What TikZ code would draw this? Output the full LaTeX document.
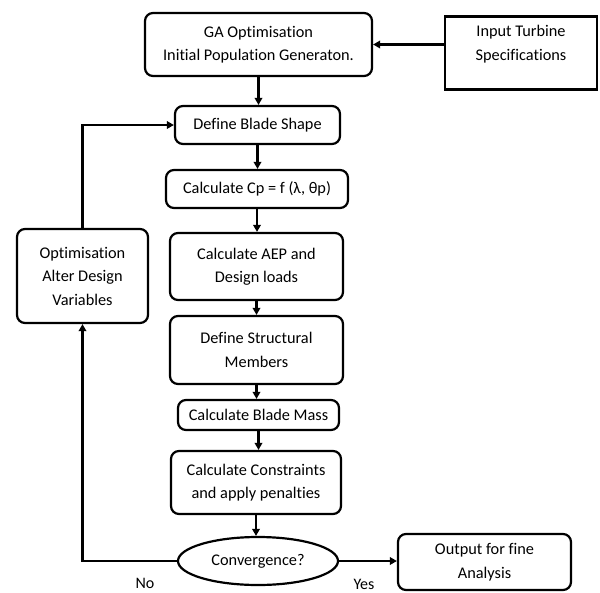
\documentclass[tikz,border=0pt]{standalone}
\usepackage{fontspec}
\setmainfont{Carlito}[Ligatures={NoCommon}]
\usetikzlibrary{shapes.geometric,arrows.meta}
\begin{document}
\begin{tikzpicture}[x=1pt,y=-1pt,
  txt/.style={font=\fontsize{16.3}{23.5}\selectfont, align=center},
  rbox/.style={draw, rounded corners=8pt, line width=2.2pt, inner sep=0pt, txt},
  sbox/.style={draw, line width=2.2pt, inner sep=0pt},
  dec/.style={draw, ellipse, line width=2.2pt, inner sep=0pt, txt},
  arr/.style={line width=2.2pt, -{Triangle[length=7pt,width=7.5pt]}},
  lbl/.style={font=\fontsize{16}{18}\selectfont}]
\useasboundingbox (0,0) rectangle (600,592);

\node[rbox, minimum width=227, minimum height=63] (ga) at (258.5,44.5) {GA Optimisation\\Initial Population Generaton.};
\node[sbox, minimum width=152, minimum height=73] (inp) at (521,53) {};
\node[txt] (inptxt) at (521,44) {Input Turbine\\Specifications};
\node[rbox, minimum width=165, minimum height=38] (shape) at (257.5,125) {Define Blade Shape};
\node[rbox, minimum width=182, minimum height=38] (cp) at (257,189) {Calculate Cp = f (λ, θp)};
\node[rbox, minimum width=173, minimum height=67] (aep) at (256.5,266.5) {Calculate AEP and\\Design loads};
\node[rbox, minimum width=173, minimum height=68] (struct) at (256.5,350) {Define Structural\\Members};
\node[rbox, minimum width=161, minimum height=30] (mass) at (258.5,415) {Calculate Blade Mass};
\node[rbox, minimum width=170, minimum height=63] (cons) at (256,482.5) {Calculate Constraints\\and apply penalties};
\node[dec, minimum width=160, minimum height=48] (conv) at (258,561) {Convergence?};
\node[rbox, minimum width=173, minimum height=56] (out) at (484.5,562) {Output for fine\\Analysis};
\node[rbox, minimum width=131, minimum height=94] (opt) at (82.5,276) {Optimisation\\Alter Design\\Variables};
\node[lbl] (no) at (145,583) {No};
\node[lbl] (yes) at (364,584) {Yes};

\draw[arr] (inp.west |- ga.east) -- (ga.east);
\draw[arr] (ga.south) -- (ga.south |- shape.north);
\draw[arr] (shape.south) -- (shape.south |- cp.north);
\draw[arr] (cp.south) -- (cp.south |- aep.north);
\draw[arr] (aep.south) -- (aep.south |- struct.north);
\draw[arr] (struct.south) -- (struct.south |- mass.north);
\draw[arr] (mass.south) -- (mass.south |- cons.north);
\draw[arr] (cons.south) -- (cons.south |- conv.north);
\draw[arr] (conv.east) -- (out.west |- conv.east);
\draw[arr] (conv.west) -| (opt.south);
\draw[arr] (opt.north) |- (shape.west);
\end{tikzpicture}
\end{document}
